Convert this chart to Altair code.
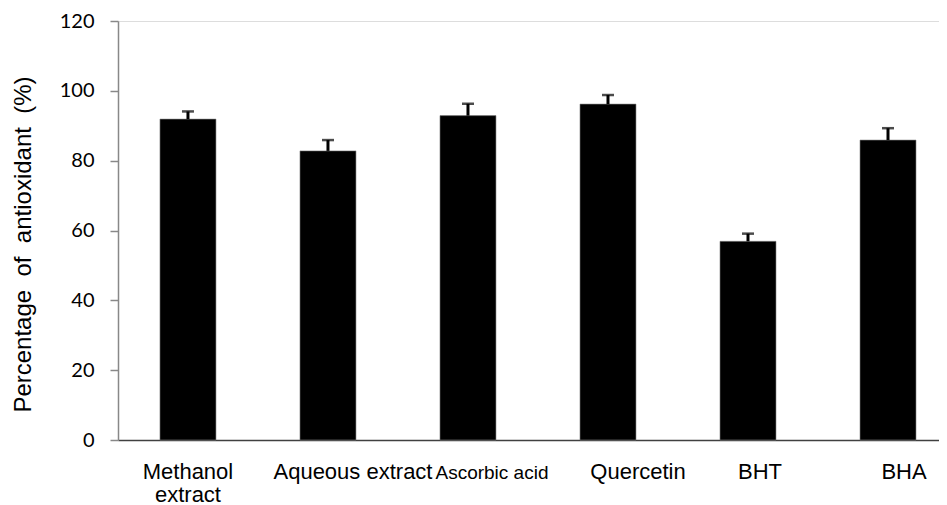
import altair as alt
import pandas as pd

categories = ["Methanol extract", "Aqueous extract", "Ascorbic acid", "Quercetin", "BHT", "BHA"]
values = [91.9, 82.8, 92.9, 96.2, 56.9, 85.9]
errors = [2.2, 3.1, 3.4, 2.6, 2.2, 3.4]
y_ticks = [0, 20, 40, 60, 80, 100, 120]

df = pd.DataFrame({"cat": categories, "val": values, "err": errors})
df["top"] = df["val"] + df["err"]

xscale = alt.Scale(domain=categories, paddingInner=0.6, paddingOuter=0.232, align=0.646)
yscale = alt.Scale(domain=[0, 120], nice=False)

label_shift = {
    "condition": [
        {"test": "datum.value == 'Aqueous extract'", "value": 25},
        {"test": "datum.value == 'Ascorbic acid'", "value": 24},
        {"test": "datum.value == 'Quercetin'", "value": 30},
        {"test": "datum.value == 'BHT'", "value": 12},
        {"test": "datum.value == 'BHA'", "value": 16},
    ],
    "value": 0,
}
label_size = {"condition": {"test": "datum.value == 'Ascorbic acid'", "value": 19}, "value": 22}
label_pad = {"condition": {"test": "datum.value == 'Ascorbic acid'", "value": 23.5}, "value": 21}

x_axis = alt.Axis(
    title=None, ticks=False, labelAngle=0, labelFont="Liberation Sans", labelFontSize=label_size,
    labelColor="#000000", labelPadding=label_pad, labelLineHeight=23, labelOverlap=False,
    labelLimit=300, labelOffset=label_shift, domainColor="#404040", domainWidth=1.5,
    labelExpr="datum.label == 'Methanol extract' ? ['Methanol', 'extract'] : datum.label",
)
y_axis = alt.Axis(
    title="Percentage\u00a0 of\u00a0 antioxidant\u00a0 (%)", values=y_ticks, grid=False,
    labelFont="Lato", labelFontSize=20, labelColor="#000000", labelPadding=16,
    tickSize=8, tickColor="#888888", tickWidth=1.5, domainColor="#888888", domainWidth=1.5,
    titleFont="Liberation Sans", titleFontSize=24, titleFontWeight="normal", titleColor="#000000",
    titleX=-95, titleY=223, titleAlign="center", titleBaseline="middle", titleAngle=-90,
)

base = alt.Chart(df)
bars = base.mark_bar(color="#000000", stroke="#7f7f7f", strokeWidth=0.6).encode(
    x=alt.X("cat:N", scale=xscale, axis=x_axis, sort=categories),
    y=alt.Y("val:Q", scale=yscale, axis=y_axis),
)
stems = base.mark_rule(color="#000000", strokeWidth=3).encode(
    x=alt.X("cat:N", scale=xscale, sort=categories),
    y=alt.Y("val:Q", scale=yscale),
    y2="top:Q",
)
caps = base.mark_tick(color="#000000", thickness=2.5, size=12, orient="horizontal").encode(
    x=alt.X("cat:N", scale=xscale, sort=categories),
    y=alt.Y("top:Q", scale=yscale),
)

chart = (bars + stems + caps).properties(
    width=821, height=419,
    autosize=alt.AutoSizeParams(type="none"),
    padding={"left": 110, "top": 13, "right": 0, "bottom": 65},
).configure_view(stroke=None).configure(background="#ffffff")

chart.save("out.html", embed_options={"renderer": "svg", "actions": False})
